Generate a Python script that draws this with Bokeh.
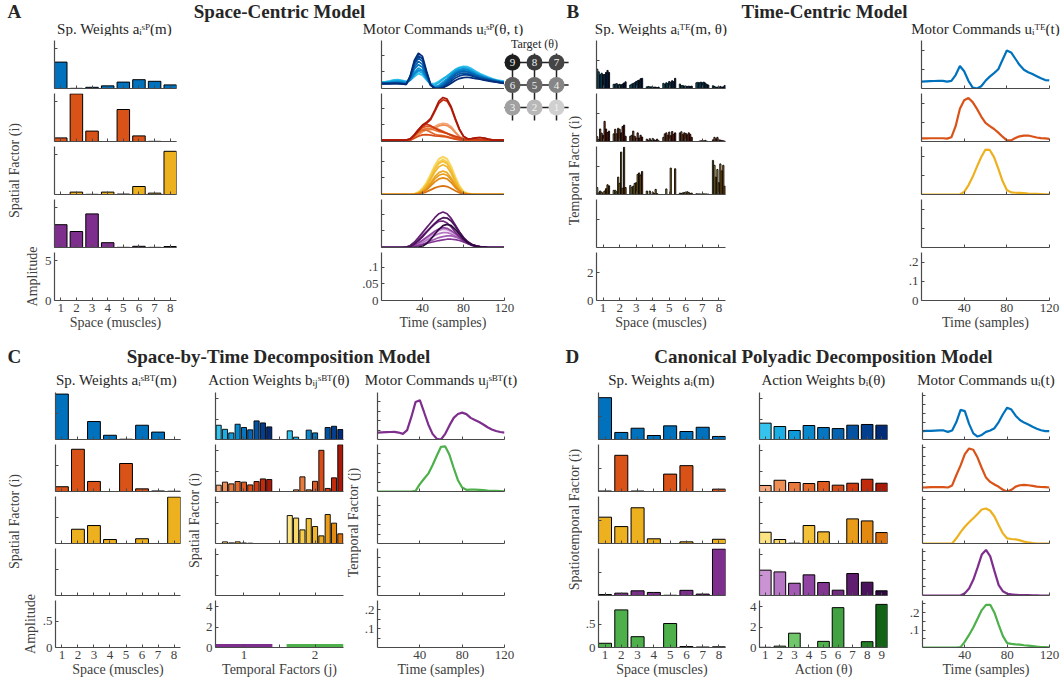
import math
from bokeh.plotting import figure
from bokeh.layouts import row, column
from bokeh.models import Range1d, FixedTicker, Label, Spacer
from bokeh.core.properties import value
from bokeh.embed import file_html
from bokeh.resources import INLINE

# ====================== DATA ======================
muscles = [1, 2, 3, 4, 5, 6, 7, 8]
targets = [1, 2, 3, 4, 5, 6, 7, 8, 9]
temporal_factors = [1, 2]
t_samples = [0, 4, 8, 12, 16, 20, 24, 28, 32, 36, 40, 44, 48, 52, 56, 60,
             64, 68, 72, 76, 80, 84, 88, 92, 96, 100, 104, 108, 112, 116, 120]

# target grid (inset)
target_col = [2, 1, 0, 2, 1, 0, 2, 1, 0]
target_row = [2, 2, 2, 1, 1, 1, 0, 0, 0]
target_gray = ["#d0d0d0", "#b8b8b8", "#a0a0a0", "#868686", "#6c6c6c",
               "#5e5e5e", "#454545", "#3a3a3a", "#1e1e1e"]

# ---- Panel A : space-centric ----
spA_f1 = [3.30, 0.02, 0.15, 0.33, 0.80, 1.10, 0.90, 0.45]
spA_f2 = [0.45, 5.95, 1.30, 0.00, 4.00, 0.70, 0.02, 0.00]
spA_f3 = [0.00, 0.30, 0.02, 0.30, 0.05, 1.00, 0.17, 5.40]
spA_f4 = [2.85, 2.00, 4.20, 0.60, 0.02, 0.15, 0.02, 0.12]

mcA_f1 = [
    [.020, .021, .023, .026, .027, .025, .022, .025, .035, .045, .040, .025, .015, .015, .022, .030, .038, .048, .058, .064, .067, .066, .060, .052, .045, .040, .035, .030, .026, .024, .022],
    [.018, .019, .021, .024, .025, .023, .020, .026, .040, .052, .046, .028, .012, .010, .018, .028, .037, .047, .056, .062, .064, .062, .056, .048, .042, .037, .032, .028, .025, .022, .020],
    [.017, .018, .019, .021, .022, .021, .018, .028, .048, .062, .055, .030, .010, .005, .010, .020, .030, .042, .052, .058, .060, .058, .052, .045, .040, .035, .031, .027, .024, .021, .019],
    [.016, .017, .018, .019, .020, .019, .016, .025, .044, .056, .052, .032, .012, .004, .006, .015, .026, .038, .048, .055, .058, .056, .050, .043, .038, .034, .030, .027, .024, .021, .019],
    [.016, .016, .017, .018, .018, .017, .015, .030, .058, .072, .064, .036, .010, .002, .004, .012, .024, .036, .046, .052, .054, .052, .047, .041, .036, .032, .029, .026, .023, .020, .018],
    [.015, .015, .016, .017, .017, .016, .014, .032, .064, .082, .073, .040, .010, .000, .002, .010, .021, .033, .043, .049, .051, .050, .045, .040, .035, .031, .028, .025, .022, .020, .018],
    [.015, .015, .015, .016, .016, .015, .013, .035, .072, .092, .082, .044, .010, .000, .000, .006, .016, .028, .038, .044, .046, .045, .041, .036, .032, .029, .026, .023, .021, .019, .017],
    [.015, .015, .015, .015, .015, .014, .012, .036, .078, .099, .090, .048, .010, .000, .000, .004, .012, .022, .032, .038, .041, .041, .038, .034, .030, .027, .025, .022, .020, .018, .016],
    [.015, .015, .015, .015, .015, .014, .012, .038, .085, .107, .097, .052, .012, .000, .000, .002, .008, .016, .024, .030, .033, .034, .032, .030, .028, .025, .023, .021, .019, .017, .015],
]
mcA_f2 = [
    [.003, .003, .003, .003, .003, .003, .003, .004, .010, .020, .030, .038, .040, .045, .052, .055, .053, .045, .030, .016, .008, .006, .006, .006, .005, .005, .004, .004, .003, .003, .003],
    [.003, .003, .003, .003, .003, .003, .003, .004, .012, .022, .030, .035, .036, .040, .047, .050, .048, .040, .027, .014, .007, .005, .005, .005, .005, .004, .004, .003, .003, .003, .003],
    [.003, .003, .003, .003, .003, .003, .003, .005, .015, .028, .036, .040, .038, .034, .030, .028, .024, .018, .012, .008, .006, .005, .005, .005, .004, .004, .003, .003, .003, .003, .003],
    [.003, .003, .003, .003, .003, .003, .003, .005, .016, .028, .035, .034, .028, .022, .019, .018, .015, .011, .008, .006, .005, .005, .005, .004, .004, .004, .003, .003, .003, .003, .003],
    [.003, .003, .003, .003, .003, .003, .003, .006, .018, .032, .042, .046, .045, .041, .036, .031, .025, .018, .012, .008, .006, .006, .006, .005, .005, .004, .004, .003, .003, .003, .003],
    [.003, .003, .003, .003, .003, .003, .003, .004, .010, .016, .020, .021, .019, .017, .016, .015, .013, .010, .007, .005, .004, .004, .004, .004, .004, .003, .003, .003, .003, .003, .003],
    [.003, .003, .003, .003, .003, .003, .003, .006, .020, .036, .048, .052, .048, .040, .033, .028, .024, .020, .016, .012, .008, .007, .007, .007, .006, .005, .004, .004, .003, .003, .003],
    [.004, .004, .004, .004, .004, .004, .004, .008, .018, .032, .046, .055, .066, .090, .115, .126, .122, .100, .066, .035, .015, .008, .009, .011, .012, .010, .007, .005, .004, .004, .004],
    [.004, .004, .004, .004, .004, .004, .004, .008, .020, .035, .050, .058, .070, .095, .122, .133, .128, .105, .070, .038, .016, .008, .009, .011, .012, .010, .007, .005, .004, .004, .004],
]
mcA_f3 = [
    [0, 0, 0, 0, 0, 0, 0, 0, .002, .008, .020, .038, .062, .088, .106, .112, .106, .085, .055, .028, .010, .004, .002, .001, .001, 0, 0, 0, 0, 0, 0],
    [0, 0, 0, 0, 0, 0, 0, 0, .001, .006, .017, .035, .060, .088, .108, .115, .108, .085, .052, .025, .009, .003, .001, .001, 0, 0, 0, 0, 0, 0, 0],
    [0, 0, 0, 0, 0, 0, 0, 0, .001, .005, .015, .031, .054, .080, .098, .105, .098, .076, .046, .021, .007, .002, .001, 0, 0, 0, 0, 0, 0, 0, 0],
    [0, 0, 0, 0, 0, 0, 0, 0, .001, .005, .014, .029, .051, .076, .094, .100, .093, .072, .043, .019, .006, .002, .001, 0, 0, 0, 0, 0, 0, 0, 0],
    [0, 0, 0, 0, 0, 0, 0, 0, .001, .004, .012, .026, .046, .068, .084, .090, .084, .064, .038, .017, .005, .002, .001, 0, 0, 0, 0, 0, 0, 0, 0],
    [0, 0, 0, 0, 0, 0, 0, 0, .001, .003, .009, .020, .036, .054, .066, .071, .066, .050, .030, .013, .004, .001, 0, 0, 0, 0, 0, 0, 0, 0, 0],
    [0, 0, 0, 0, 0, 0, 0, 0, 0, .003, .008, .018, .032, .047, .058, .062, .058, .044, .026, .012, .004, .001, 0, 0, 0, 0, 0, 0, 0, 0, 0],
    [0, 0, 0, 0, 0, 0, 0, 0, 0, .002, .006, .014, .026, .038, .047, .050, .047, .036, .021, .010, .003, .001, 0, 0, 0, 0, 0, 0, 0, 0, 0],
    [0, 0, 0, 0, 0, 0, 0, 0, 0, .001, .004, .008, .014, .020, .024, .026, .024, .018, .011, .005, .002, .001, 0, 0, 0, 0, 0, 0, 0, 0, 0],
]
mcA_f4 = [
    [0, 0, 0, 0, 0, 0, 0, .002, .006, .012, .020, .028, .036, .044, .051, .055, .054, .048, .040, .031, .022, .014, .008, .004, .002, .001, 0, 0, 0, 0, 0],
    [0, 0, 0, 0, 0, 0, 0, .001, .004, .009, .015, .022, .029, .036, .042, .045, .045, .041, .035, .028, .020, .013, .008, .004, .002, .001, 0, 0, 0, 0, 0],
    [0, 0, 0, 0, 0, 0, 0, .001, .003, .006, .010, .015, .020, .025, .030, .033, .035, .035, .032, .027, .021, .015, .010, .006, .003, .001, 0, 0, 0, 0, 0],
    [0, 0, 0, 0, 0, 0, 0, .002, .007, .014, .022, .031, .040, .049, .056, .060, .058, .051, .042, .032, .022, .014, .008, .004, .002, .001, 0, 0, 0, 0, 0],
    [0, 0, 0, 0, 0, 0, 0, .001, .003, .006, .009, .012, .015, .018, .021, .023, .025, .025, .024, .021, .017, .012, .008, .005, .003, .001, 0, 0, 0, 0, 0],
    [0, 0, 0, 0, 0, 0, .001, .005, .013, .024, .036, .048, .060, .071, .079, .080, .074, .062, .047, .033, .021, .012, .006, .003, .001, 0, 0, 0, 0, 0, 0],
    [0, 0, 0, 0, 0, 0, .001, .006, .016, .030, .045, .060, .075, .090, .102, .107, .102, .088, .068, .048, .030, .017, .008, .004, .002, .001, 0, 0, 0, 0, 0],
    [0, 0, 0, 0, 0, 0, 0, .003, .010, .020, .032, .046, .060, .073, .084, .090, .089, .080, .064, .046, .030, .018, .010, .005, .002, .001, 0, 0, 0, 0, 0],
    [0, 0, 0, 0, 0, 0, 0, 0, 0, .001, .004, .012, .025, .040, .055, .066, .070, .066, .055, .040, .026, .015, .008, .004, .002, .001, 0, 0, 0, 0, 0],
]

# ---- Panel B : time-centric (8 muscles x 9 targets) ----
spB_f1 = [1.39, 1.20, 1.00, 1.10, 1.00, 1.00, 1.15, 1.30, 1.15,
          0.30, 0.32, 0.35, 0.27, 0.30, 0.27, 0.32, 0.40, 0.48,
          0.25, 0.32, 0.37, 0.42, 0.50, 0.56, 0.60, 0.70, 0.73,
          0.12, 0.15, 0.12, 0.12, 0.10, 0.10, 0.10, 0.07, 0.10,
          0.37, 0.32, 0.41, 0.37, 0.50, 0.45, 0.56, 0.50, 0.73,
          0.32, 0.20, 0.22, 0.17, 0.17, 0.15, 0.17, 0.15, 0.17,
          0.41, 0.44, 0.41, 0.46, 0.41, 0.46, 0.39, 0.30, 0.25,
          0.20, 0.15, 0.10, 0.10, 0.07, 0.15, 0.10, 0.12, 0.22]
spB_f2 = [0.35, 0.15, 0.90, 0.60, 0.45, 1.45, 0.90, 0.65, 0.75,
          0.55, 0.88, 0.55, 0.95, 0.88, 0.62, 1.08, 1.18, 0.38,
          0.38, 0.45, 0.75, 0.38, 0.25, 0.62, 0.25, 0.45, 0.32,
          0.17, 0.08, 0.20, 0.08, 0.22, 0.12, 0.08, 0.17, 0.05,
          0.30, 0.55, 0.62, 0.45, 0.68, 0.42, 0.72, 0.52, 0.62,
          0.62, 0.70, 0.50, 0.62, 0.58, 0.48, 0.62, 0.52, 0.30,
          0.00, 0.00, 0.03, 0.05, 0.08, 0.05, 0.08, 0.03, 0.00,
          0.12, 0.30, 0.20, 0.30, 0.12, 0.10, 0.08, 0.05, 0.03]
spB_f3 = [0.50, 0.12, 0.25, 0.17, 0.08, 0.25, 0.42, 0.70, 0.62,
          0.30, 0.30, 0.20, 1.25, 0.80, 3.05, 0.45, 3.40, 0.50,
          0.65, 0.50, 0.60, 0.80, 0.85, 1.45, 1.55, 1.40, 1.65,
          0.25, 0.00, 0.25, 0.00, 0.17, 0.07, 0.37, 0.07, 0.00,
          0.00, 0.00, 0.40, 0.00, 0.00, 1.90, 0.00, 0.00, 1.85,
          0.10, 0.08, 0.12, 0.15, 0.10, 0.20, 0.15, 0.08, 0.10,
          0.05, 0.05, 0.04, 0.04, 0.04, 0.05, 0.04, 0.04, 0.03,
          2.45, 2.10, 1.25, 1.80, 0.85, 2.20, 1.70, 2.10, 0.60]

mcB_f1 = [.036, .037, .038, .039, .040, .040, .036, .040, .070, .117, .090, .040, .005, .000, .012, .040, .062, .080, .100, .150, .198, .188, .155, .122, .098, .085, .075, .064, .053, .044, .042]
mcB_f2 = [.016, .016, .017, .017, .017, .017, .015, .022, .080, .170, .215, .227, .205, .170, .130, .097, .080, .065, .046, .025, .006, .006, .018, .027, .031, .031, .026, .021, .018, .016, .014]
mcB_f3 = [0, 0, 0, 0, 0, 0, 0, 0, 0, 0, .014, .048, .092, .145, .195, .234, .232, .195, .135, .070, .023, .011, .009, .008, .007, .005, .004, .003, .002, .001, .001]

# ---- Panel C : space-by-time ----
spC_f1 = [0.86, 0.00, 0.34, 0.08, 0.005, 0.27, 0.14, 0.00]
spC_f2 = [0.09, 0.80, 0.19, 0.00, 0.53, 0.05, 0.01, 0.005]
spC_f3 = [0.00, 0.27, 0.34, 0.075, 0.00, 0.09, 0.00, 0.88]
actC_f1 = [1.40, 1.00, 0.65, 1.50, 1.18, 0.95, 1.83, 1.63, 1.24,   # j = 1
           0.85, 0.23, 0.00, 0.92, 0.65, 0.00, 1.18, 1.30, 0.98]   # j = 2
actC_f2 = [0.62, 0.92, 0.75, 0.98, 0.92, 0.65, 0.98, 1.24, 1.18,
           0.00, 0.16, 1.44, 0.16, 1.00, 4.05, 0.30, 1.34, 4.60]
actC_f3 = [0.00, 0.16, 0.06, 0.16, 0.05, 0.03, 0.00, 0.00, 0.00,
           2.75, 2.50, 1.34, 2.45, 1.67, 0.75, 2.85, 2.00, 0.95]
mcC_j1 = [.037, .038, .039, .040, .041, .037, .030, .050, .120, .200, .209, .145, .080, .030, .004, .000, .030, .075, .115, .136, .143, .135, .115, .104, .093, .080, .065, .053, .045, .040, .037]
mcC_j2 = [0, 0, 0, 0, 0, 0, 0, 0, 0, .003, .039, .068, .095, .140, .190, .238, .240, .195, .125, .060, .021, .009, .010, .010, .009, .007, .005, .004, .003, .002, .001]

# ---- Panel D : canonical polyadic ----
spD_f1 = [0.89, 0.15, 0.24, 0.085, 0.29, 0.17, 0.26, 0.065]
spD_f2 = [0.01, 0.77, 0.01, 0.00, 0.37, 0.55, 0.00, 0.05]
spD_f3 = [0.56, 0.36, 0.76, 0.10, 0.00, 0.035, 0.00, 0.09]
spD_f4 = [0.02, 0.05, 0.10, 0.065, 0.005, 0.11, 0.03, 0.99]
spD_f5 = [0.09, 0.80, 0.23, 0.00, 0.51, 0.02, 0.01, 0.015]
actD_f1 = [1.60, 1.27, 0.88, 1.37, 1.17, 1.07, 1.40, 1.47, 1.40]
actD_f2 = [0.59, 1.10, 0.88, 0.78, 0.98, 0.62, 0.81, 1.20, 0.81]
actD_f3 = [1.10, 0.39, 0.03, 1.76, 1.14, 0.00, 2.41, 2.21, 1.07]
actD_f4 = [2.48, 2.31, 1.20, 2.02, 1.27, 0.52, 2.15, 1.30, 0.46]
actD_f5 = [0.02, 0.13, 1.40, 0.00, 0.60, 3.90, 0.00, 0.57, 4.22]
mcD_f1 = [.048, .049, .050, .051, .052, .052, .044, .052, .100, .170, .163, .090, .035, .017, .026, .044, .052, .065, .100, .145, .183, .172, .137, .112, .097, .086, .073, .062, .053, .048, .048]
mcD_f2 = [.023, .024, .025, .025, .025, .025, .023, .035, .095, .150, .215, .247, .240, .195, .135, .080, .055, .040, .027, .010, .000, .010, .028, .036, .038, .036, .032, .028, .026, .025, .023]
mcD_f3 = [0, 0, 0, 0, 0, 0, 0, 0, .030, .065, .096, .122, .145, .170, .195, .201, .188, .155, .105, .058, .029, .026, .024, .018, .011, .006, .002, 0, 0, 0, 0]
mcD_f4 = [0, 0, 0, 0, 0, 0, 0, 0, 0, 0, .013, .040, .090, .160, .235, .262, .225, .140, .060, .024, .010, .006, .004, .003, .002, .002, .001, .001, 0, 0, 0]
mcD_f5 = [0, 0, 0, 0, 0, 0, 0, 0, 0, .002, .034, .072, .115, .165, .215, .245, .245, .200, .130, .065, .025, .021, .018, .016, .013, .011, .008, .005, .003, .002, .001]

# ====================== STYLE ======================
SERIF = "Liberation Serif"
TXT = "#262626"
LBL = "#404040"
AXC = "#4a4a4a"
BLUE, ORANGE, YELLOW, PURPLE, GREEN = "#0072BD", "#D95319", "#EDB120", "#7E2F8E", "#4DB04A"
BLUES = ["#35C4EE", "#1BAEE4", "#0E9AD8", "#0A88CC", "#0776C0", "#0564B2", "#0452A2", "#033F90", "#022C78"]
REDS = ["#F2A679", "#EE8E55", "#E97A3D", "#E36A2D", "#DE5A20", "#D84C18", "#CF3C12", "#C22A0C", "#AA1808"]
YELLOWS = ["#FCE383", "#F9D766", "#F6CC4A", "#F2C138", "#EFB52C", "#EBA922", "#E89C1A", "#E28912", "#D9700B"]
PURPLES = ["#C993D4", "#B676C4", "#A25AB2", "#9145A2", "#823692", "#722A82", "#601E70", "#4A135C", "#2E0A40"]
GREENS = ["#A6DDA0", "#8AD282", "#70C76A", "#5EBC5A", "#4FB04D", "#42A242", "#339234", "#248026", "#146418"]

TOP = dict(top0=4, frame_h=48, gap=5, bottom=40)
BOT = dict(top0=0, frame_h=47, gap=5, bottom=40)


def ov(d):
    out = {}
    for k, v in d.items():
        out[k] = v
        out[str(k)] = v
    return out


def style_axis(ax, ticks, show, over):
    ax.ticker = FixedTicker(ticks=ticks)
    ax.axis_line_color = AXC
    ax.axis_line_width = 1.2
    ax.major_tick_line_color = AXC
    ax.major_tick_line_width = 1
    ax.major_tick_in = 3
    ax.major_tick_out = 0
    ax.minor_tick_line_color = None
    ax.major_label_text_font = SERIF
    ax.major_label_text_color = LBL
    if over:
        ax.major_label_overrides = ov(over)
    if show:
        ax.major_label_text_font_size = "13px"
        ax.major_label_standoff = 3
    else:
        # inner panels: tick labels kept but collapsed (as in the stacked original)
        ax.major_label_text_font_size = "0px"
        ax.major_label_standoff = 0


def make_col(sec, bl, frame_w, br, xr, yr, xt, yt, xover, yover, xlabel, drawers, br_last=None):
    figs = []
    for i in range(5):
        bt = sec["top0"] if i == 0 else 0
        bb = sec["bottom"] if i == 4 else sec["gap"]
        rb = br_last if (i == 4 and br_last is not None) else br
        p = figure(width=bl + frame_w + rb, height=bt + sec["frame_h"] + bb,
                   x_range=Range1d(*xr), y_range=Range1d(*yr),
                   output_backend="svg", toolbar_location=None,
                   min_border_left=bl, min_border_right=rb,
                   min_border_top=bt, min_border_bottom=bb)
        p.outline_line_color = None
        p.xgrid.visible = False
        p.ygrid.visible = False
        p.background_fill_color = "white"
        p.border_fill_color = "white"
        last = (i == 4)
        style_axis(p.xaxis[0], xt, last, xover)
        style_axis(p.yaxis[0], yt, last, yover)
        if last:
            p.xaxis.axis_label = xlabel
            p.xaxis.axis_label_text_font = SERIF
            p.xaxis.axis_label_text_font_style = "normal"
            p.xaxis.axis_label_text_font_size = "14px"
            p.xaxis.axis_label_text_color = LBL
            p.xaxis.axis_label_standoff = 0
        if i < len(drawers) and drawers[i] is not None:
            drawers[i](p)
        figs.append(p)
    return figs


def text_fig(w, h):
    p = figure(width=w, height=h, x_range=Range1d(0, 1), y_range=Range1d(0, 1),
               output_backend="svg", toolbar_location=None, min_border=0,
               x_axis_location=None, y_axis_location=None)
    p.outline_line_color = None
    p.grid.visible = False
    p.border_fill_color = "white"
    p.background_fill_color = "white"
    return p


def add_label(p, x, y, text, size, bold=False, align="center", angle=0.0, color=TXT,
              units="screen"):
    p.add_layout(Label(x=x, y=y, x_units=units, y_units=units, text=text,
                       text_font=SERIF, text_font_size=size,
                       text_font_style="bold" if bold else "normal",
                       text_align=align, text_baseline="middle", angle=angle,
                       text_color=color))


# drawers
def bars(vals, color):
    def f(p):
        p.vbar(x=muscles, top=vals, width=0.8, fill_color=color,
               line_color="black", line_width=1)
    return f


def target_bars(vals, colors):
    def f(p):
        p.vbar(x=targets, top=vals, width=0.8, fill_color=colors,
               line_color="black", line_width=1)
    return f


def grouped_bars(vals, colors, groups, slot, w):
    xs = [g + (k - 5) * slot for g in groups for k in targets]
    cols = [colors[k - 1] for g in groups for k in targets]

    def f(p):
        p.vbar(x=xs, top=vals, width=w, fill_color=cols,
               line_color="black", line_width=1, line_alpha=0.9)
    return f


def curve(vals, color):
    def f(p):
        p.line(t_samples, vals, line_color=color, line_width=2.2)
    return f


def bundle(curves, colors):
    def f(p):
        for c, col in zip(curves, colors):
            p.line(t_samples, c, line_color=col, line_width=1.7)
    return f


def tf_strip(p):
    p.segment(x0=[j - 0.4 for j in temporal_factors], x1=[j + 0.4 for j in temporal_factors],
              y0=[0 for j in temporal_factors], y1=[0 for j in temporal_factors],
              line_color=[PURPLE, GREEN], line_width=7)


ROT = math.pi / 2
T_TICKS = [40, 80, 120]
M_TICKS = muscles
SUB = "15px"
HEAD = "19px"

# ====================== TOP SECTION ======================
H1 = text_fig(1063, 36)
add_label(H1, 7, 25.5, "A", HEAD, bold=True, align="left")
add_label(H1, 279, 25.5, "Space-Centric Model", HEAD, bold=True)
add_label(H1, 566, 25.5, "B", HEAD, bold=True, align="left")
add_label(H1, 824, 25.5, "Time-Centric Model", HEAD, bold=True)
sub_y = 8
add_label(H1, 52 + 62, sub_y, "Sp. Weights a\u1d62\u02e2\u1d3e(m)", SUB)
add_label(H1, 381 + 61.5, sub_y, "Motor Commands u\u1d62\u02e2\u1d3e(\u03b8, t)", SUB)
add_label(H1, 596 + 64.5, sub_y, "Sp. Weights a\u1d62\u1d40\u1d31(m, \u03b8)", SUB)
add_label(H1, 921 + 64, sub_y, "Motor Commands u\u1d62\u1d40\u1d31(t)", SUB)

A_lab = text_fig(41, 304)
add_label(A_lab, 14, 170, "Spatial Factor (i)", "14px", angle=ROT, color=LBL)
add_label(A_lab, 32, 64, "Amplitude", "14px", angle=ROT, color=LBL)

A1 = make_col(TOP, 11, 124, 10, (0.6, 8.4), (0, 6.0), M_TICKS, [0, 5], None,
              None, "Space (muscles)",
              [bars(spA_f1, BLUE), bars(spA_f2, ORANGE), bars(spA_f3, YELLOW), bars(spA_f4, PURPLE)])

A2 = make_col(TOP, 195, 123, 0, (0, 120), (0, 0.145), T_TICKS, [0, 0.05, 0.1], None,
              {0: "0", 0.05: ".05", 0.1: ".1"}, "Time (samples)",
              [bundle(mcA_f1, BLUES), bundle(mcA_f2, REDS), bundle(mcA_f3, YELLOWS),
               bundle(mcA_f4, PURPLES)], br_last=20)

# target inset
ins = figure(width=78, height=216, x_range=Range1d(-8 / 22, 70 / 22),
             y_range=Range1d(190 / 22.5, -26 / 22.5), output_backend="svg",
             toolbar_location=None, min_border=0, x_axis_location=None, y_axis_location=None)
ins.outline_line_color = None
ins.grid.visible = False
grid_idx = [0, 1, 2]
ins.segment(x0=[-0.6 for r in grid_idx], x1=[2.55 for r in grid_idx], y0=grid_idx, y1=grid_idx,
            line_color="#222222", line_width=1.5)
ins.segment(x0=grid_idx, x1=grid_idx, y0=[-0.4 for c in grid_idx], y1=[2.58 for c in grid_idx],
            line_color="#222222", line_width=1.5)
ins.scatter(x=target_col, y=target_row, size=16, marker="circle", fill_color=target_gray,
            line_color=None)
ins.text(x=target_col, y=target_row, text=[str(t) for t in targets], text_align="center",
         text_baseline="middle", text_font=value(SERIF), text_font_size="11px",
         text_color="#f0f0f0")
add_label(ins, 1, -0.84, "Target (\u03b8)", "12px", units="data")
add_label(ins, 70, 82, "Temporal Factor (i)", "14px", angle=ROT, color=LBL)

R = column(row(column(A2[0], A2[1], A2[2], A2[3]), ins),
           row(A2[4], Spacer(width=58, height=88)))

B1 = make_col(TOP, 14, 129, 10, (0.6, 8.4), (0, 3.45), M_TICKS, [0, 2], None,
              None, "Space (muscles)",
              [grouped_bars(spB_f1, BLUES, muscles, 0.089, 0.072),
               grouped_bars(spB_f2, REDS, muscles, 0.089, 0.072),
               grouped_bars(spB_f3, YELLOWS, muscles, 0.089, 0.072)])

B2 = make_col(TOP, 186, 128, 14, (0, 120), (0, 0.25), T_TICKS, [0, 0.1, 0.2], None,
              {0: "0", 0.1: ".1", 0.2: ".2"}, "Time (samples)",
              [curve(mcB_f1, BLUE), curve(mcB_f2, ORANGE), curve(mcB_f3, YELLOW)])

top_row = row(A_lab, column(*A1), R, column(*B1), column(*B2))

# ====================== BOTTOM SECTION ======================
H2 = text_fig(1063, 52)
add_label(H2, 7, 36, "C", HEAD, bold=True, align="left")
add_label(H2, 278, 36, "Space-by-Time Decomposition Model", HEAD, bold=True)
add_label(H2, 565, 36, "D", HEAD, bold=True, align="left")
add_label(H2, 823, 36, "Canonical Polyadic Decomposition Model", HEAD, bold=True)
sub_y2 = 13
add_label(H2, 52 + 64, sub_y2, "Sp. Weights a\u1d62\u02e2\u1d2e\u1d40(m)", SUB)
add_label(H2, 214 + 64.5, sub_y2, "Action Weights b\u1d62\u2c7c\u02e2\u1d2e\u1d40(\u03b8)", SUB)
add_label(H2, 377 + 63.5, sub_y2, "Motor Commands u\u2c7c\u02e2\u1d2e\u1d40(t)", SUB)
add_label(H2, 597 + 64, sub_y2, "Sp. Weights a\u1d62(m)", SUB)
add_label(H2, 759 + 64, sub_y2, "Action Weights b\u1d62(\u03b8)", SUB)
add_label(H2, 922 + 63.5, sub_y2, "Motor Commands u\u1d62(t)", SUB)

C_lab = text_fig(39, 295)
add_label(C_lab, 14, 166, "Spatial Factor (i)", "14px", angle=ROT, color=LBL)
add_label(C_lab, 30, 63.5, "Amplitude", "14px", angle=ROT, color=LBL)
C1 = make_col(BOT, 13, 128, 6, (0.6, 8.4), (0, 0.89), M_TICKS, [0, 0.5], None,
              {0: "0", 0.5: ".5"}, "Space (muscles)",
              [bars(spC_f1, BLUE), bars(spC_f2, ORANGE), bars(spC_f3, YELLOW)])

C2_lab = text_fig(16, 295)
add_label(C2_lab, 8, 167, "Spatial Factor (i)", "14px", angle=ROT, color=LBL)
C2 = make_col(BOT, 12, 129, 2, (0.6, 2.4), (0, 4.62), [1, 1.5, 2], [0, 2, 4],
              {1: "1", 1.5: "", 2: "2"}, None, "Temporal Factors (j)",
              [grouped_bars(actC_f1, BLUES, temporal_factors, 0.0889, 0.072),
               grouped_bars(actC_f2, REDS, temporal_factors, 0.0889, 0.072),
               grouped_bars(actC_f3, YELLOWS, temporal_factors, 0.0889, 0.072),
               None, tf_strip])

C3_lab = text_fig(16, 295)
add_label(C3_lab, 8, 165, "Temporal Factor (j)", "14px", angle=ROT, color=LBL)
C3 = make_col(BOT, 16, 127, 56, (0, 120), (0, 0.25), T_TICKS, [0.05, 0.1, 0.15, 0.2], None,
              {0.05: "", 0.1: ".1", 0.15: "", 0.2: ".2"}, "Time (samples)",
              [curve(mcC_j1, PURPLE), curve(mcC_j2, GREEN)])

D_lab = text_fig(22, 295)
add_label(D_lab, 14, 168, "Spatiotemporal Factor (i)", "14px", angle=ROT, color=LBL)
D1 = make_col(BOT, 15, 128, 10, (0.6, 8.4), (0, 1.0), M_TICKS, [0, 0.5], None,
              {0: "0", 0.5: ".5"}, "Space (muscles)",
              [bars(spD_f1, BLUE), bars(spD_f2, ORANGE), bars(spD_f3, YELLOW),
               bars(spD_f4, PURPLE), bars(spD_f5, GREEN)])
D2 = make_col(BOT, 24, 128, 8, (0.6, 9.4), (0, 4.6), targets, [0, 2, 4], None,
              None, "Action (\u03b8)",
              [target_bars(actD_f1, BLUES), target_bars(actD_f2, REDS),
               target_bars(actD_f3, YELLOWS), target_bars(actD_f4, PURPLES),
               target_bars(actD_f5, GREENS)])
D3 = make_col(BOT, 27, 127, 14, (0, 120), (0, 0.27), T_TICKS, [0.05, 0.1, 0.15, 0.2, 0.25], None,
              {0.05: "", 0.1: ".1", 0.15: "", 0.2: ".2", 0.25: ""}, "Time (samples)",
              [curve(mcD_f1, BLUE), curve(mcD_f2, ORANGE), curve(mcD_f3, YELLOW),
               curve(mcD_f4, PURPLE), curve(mcD_f5, GREEN)])

bottom_row = row(C_lab, column(*C1), C2_lab, column(*C2), C3_lab, column(*C3),
                 D_lab, column(*D1), column(*D2), column(*D3))

layout = column(H1, top_row, H2, bottom_row)

open("out.html", "w").write(file_html(layout, INLINE))
